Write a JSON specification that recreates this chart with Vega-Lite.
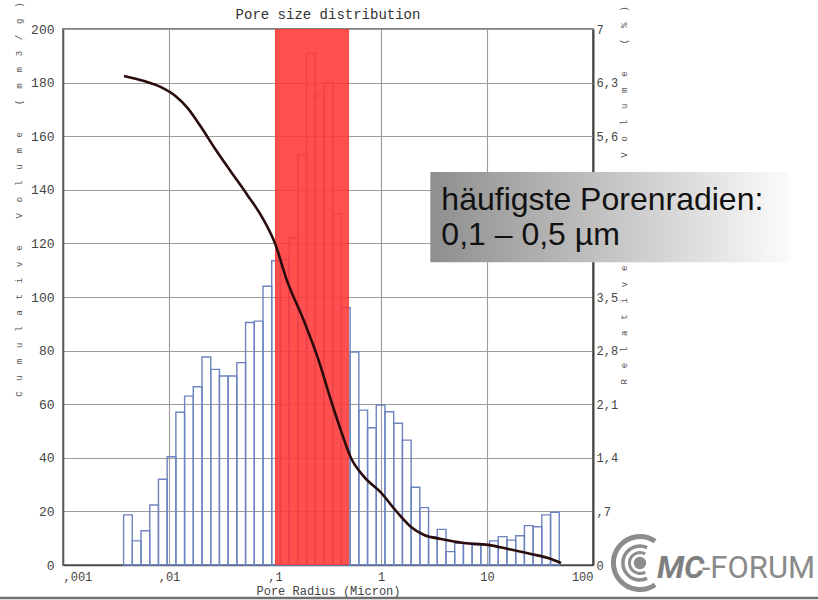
{
  "$schema": "https://vega.github.io/schema/vega-lite/v6.json",
  "width": 530,
  "height": 536,
  "autosize": {"type": "none"},
  "padding": {"left": 63, "top": 29, "right": 225, "bottom": 35},
  "background": "white",
  "title": {"text": "Pore size distribution", "font": "Liberation Mono", "fontSize": 14, "fontWeight": "normal", "color": "#333333", "offset": 9, "dy": 29, "anchor": "middle"},
  "config": {
    "view": {"stroke": "#5a5a5a", "strokeWidth": 1.5},
    "axis": {"gridColor": "#9c9c9c", "gridWidth": 1.1}
  },
  "resolve": {"axis": {"x": "independent", "y": "independent"}},
  "layer": [
    {
      "data": {"values": [
        {"x0": 0.003729, "x1": 0.004507, "v": 18.7},
        {"x0": 0.004507, "x1": 0.005445, "v": 9},
        {"x0": 0.005445, "x1": 0.00658, "v": 12.8},
        {"x0": 0.00658, "x1": 0.007951, "v": 22.4},
        {"x0": 0.007951, "x1": 0.009607, "v": 32},
        {"x0": 0.009607, "x1": 0.01161, "v": 40.4},
        {"x0": 0.01161, "x1": 0.01403, "v": 57},
        {"x0": 0.01403, "x1": 0.01695, "v": 63},
        {"x0": 0.01695, "x1": 0.02048, "v": 66.5},
        {"x0": 0.02048, "x1": 0.02475, "v": 77.6},
        {"x0": 0.02475, "x1": 0.0299, "v": 73},
        {"x0": 0.0299, "x1": 0.03614, "v": 70.5},
        {"x0": 0.03614, "x1": 0.04367, "v": 70.5},
        {"x0": 0.04367, "x1": 0.05277, "v": 75.5},
        {"x0": 0.05277, "x1": 0.06376, "v": 90.5},
        {"x0": 0.06376, "x1": 0.07704, "v": 91},
        {"x0": 0.07704, "x1": 0.09311, "v": 104},
        {"x0": 0.09311, "x1": 0.1125, "v": 113.5},
        {"x0": 0.1125, "x1": 0.1359, "v": 114},
        {"x0": 0.1359, "x1": 0.1643, "v": 122},
        {"x0": 0.1643, "x1": 0.1985, "v": 153},
        {"x0": 0.1985, "x1": 0.2399, "v": 191},
        {"x0": 0.2399, "x1": 0.2899, "v": 175},
        {"x0": 0.2899, "x1": 0.3503, "v": 180},
        {"x0": 0.3503, "x1": 0.4233, "v": 131},
        {"x0": 0.4233, "x1": 0.5114, "v": 96},
        {"x0": 0.5114, "x1": 0.618, "v": 79.5},
        {"x0": 0.618, "x1": 0.7468, "v": 57.8},
        {"x0": 0.7468, "x1": 0.9024, "v": 51.2},
        {"x0": 0.9024, "x1": 1.0904, "v": 59.7},
        {"x0": 1.0904, "x1": 1.3176, "v": 57.2},
        {"x0": 1.3176, "x1": 1.5922, "v": 52.9},
        {"x0": 1.5922, "x1": 1.9241, "v": 46.6},
        {"x0": 1.9241, "x1": 2.3248, "v": 29},
        {"x0": 2.3248, "x1": 2.8093, "v": 21.4},
        {"x0": 2.8093, "x1": 3.3943, "v": 10.6},
        {"x0": 3.3943, "x1": 4.102, "v": 13.3},
        {"x0": 4.102, "x1": 4.9569, "v": 5},
        {"x0": 4.9569, "x1": 5.9894, "v": 8.1},
        {"x0": 5.9894, "x1": 7.2378, "v": 8.1},
        {"x0": 7.2378, "x1": 8.7458, "v": 7.5},
        {"x0": 8.7458, "x1": 10.568, "v": 7.5},
        {"x0": 10.568, "x1": 12.771, "v": 9},
        {"x0": 12.771, "x1": 15.432, "v": 10.6},
        {"x0": 15.432, "x1": 18.648, "v": 9.3},
        {"x0": 18.648, "x1": 22.533, "v": 10.9},
        {"x0": 22.533, "x1": 27.227, "v": 14.7},
        {"x0": 27.227, "x1": 32.9, "v": 14.3},
        {"x0": 32.9, "x1": 39.757, "v": 18.7},
        {"x0": 39.757, "x1": 48.04, "v": 19.7}
      ]},
      "mark": {"type": "rect", "fill": "#ffffff", "fillOpacity": 0, "stroke": "#6d84c0", "strokeWidth": 1.4},
      "encoding": {
        "x": {"field": "x0", "type": "quantitative", "scale": {"type": "log", "domain": [0.001, 100], "nice": false},
          "axis": {"values": [0.001, 0.01, 0.1, 1, 10, 100], "labelExpr": "datum.value < 1 ? replace(toString(datum.value), '0.', ',') : toString(datum.value)", "grid": true, "ticks": false, "labelFont": "Liberation Mono", "labelFontSize": 12, "labelColor": "#444444", "labelPadding": 6, "labelFlush": true, "domainColor": "#4a4a4a", "domainWidth": 1.5, "title": "Pore Radius (Micron)", "titleFont": "Liberation Mono", "titleFontSize": 12, "titleFontWeight": "normal", "titleColor": "#444444", "titlePadding": 3}},
        "x2": {"field": "x1"},
        "y": {"field": "v", "type": "quantitative", "scale": {"domain": [0, 200], "nice": false},
          "axis": {"values": [0, 20, 40, 60, 80, 100, 120, 140, 160, 180, 200], "grid": true, "ticks": false, "labelFont": "Liberation Mono", "labelFontSize": 13, "labelColor": "#444444", "labelPadding": 9, "domainColor": "#5a5a5a", "domainWidth": 1.5,
            "title": "C\u00a0\u00a0u\u00a0\u00a0m\u00a0\u00a0u\u00a0\u00a0l\u00a0\u00a0a\u00a0\u00a0t\u00a0\u00a0i\u00a0\u00a0v\u00a0\u00a0e\u00a0\u00a0\u00a0\u00a0\u00a0V\u00a0\u00a0o\u00a0\u00a0l\u00a0\u00a0u\u00a0\u00a0m\u00a0\u00a0e\u00a0\u00a0\u00a0\u00a0\u00a0(\u00a0\u00a0m\u00a0\u00a0m\u00a0\u00a03\u00a0\u00a0/\u00a0\u00a0g\u00a0\u00a0)",
            "titleFont": "Liberation Mono", "titleFontSize": 9, "titleFontWeight": "normal", "titleColor": "#555555", "titleX": -45, "titleY": 170, "titleAngle": -90, "titleAlign": "center", "titleBaseline": "middle"}},
        "y2": {"datum": 0}
      }
    },
    {
      "data": {"values": [{"a": 0.1, "b": 0.5, "lo": 0, "hi": 200}]},
      "mark": {"type": "rect", "color": "#ff3838", "opacity": 0.88},
      "encoding": {
        "x": {"field": "a", "type": "quantitative", "scale": {"type": "log", "domain": [0.001, 100], "nice": false}, "axis": null},
        "x2": {"field": "b"},
        "y": {"field": "lo", "type": "quantitative", "scale": {"domain": [0, 200], "nice": false}, "axis": null},
        "y2": {"field": "hi"}
      }
    },
    {
      "data": {"values": [
        {"r": 0.00376, "c": 182.5},
        {"r": 0.0058, "c": 180.6},
        {"r": 0.0084, "c": 178.3},
        {"r": 0.0115, "c": 175},
        {"r": 0.015, "c": 170.5},
        {"r": 0.02, "c": 163.5},
        {"r": 0.027, "c": 155.5},
        {"r": 0.038, "c": 147},
        {"r": 0.055, "c": 138},
        {"r": 0.075, "c": 130},
        {"r": 0.1, "c": 120},
        {"r": 0.13, "c": 106},
        {"r": 0.186, "c": 91.4},
        {"r": 0.26, "c": 76},
        {"r": 0.34, "c": 61},
        {"r": 0.42, "c": 50},
        {"r": 0.52, "c": 40},
        {"r": 0.69, "c": 33},
        {"r": 1.0, "c": 27},
        {"r": 1.44, "c": 19.4},
        {"r": 1.92, "c": 14.2},
        {"r": 2.55, "c": 11.2},
        {"r": 3.68, "c": 9.7},
        {"r": 6.07, "c": 8.2},
        {"r": 10.2, "c": 7.5},
        {"r": 15.8, "c": 6},
        {"r": 26, "c": 4.1},
        {"r": 37.6, "c": 2.6},
        {"r": 49.9, "c": 0.75}
      ]},
      "mark": {"type": "line", "color": "#2a0c0c", "strokeWidth": 2.6, "interpolate": "monotone"},
      "encoding": {
        "x": {"field": "r", "type": "quantitative", "scale": {"type": "log", "domain": [0.001, 100], "nice": false}, "axis": null},
        "y": {"field": "c", "type": "quantitative", "scale": {"domain": [0, 200], "nice": false},
          "axis": {"orient": "right", "values": [0, 20, 40, 60, 80, 100, 120, 140, 160, 180, 200], "grid": false, "ticks": false,
            "labelExpr": "datum.value == 0 ? '0' : datum.value == 200 ? '7' : replace(replace(format(datum.value * 0.035, '.1f'), '0.', '.'), '.', ',')",
            "labelFont": "Liberation Mono", "labelFontSize": 12, "labelColor": "#444444", "labelPadding": 3, "domainColor": "#444444", "domainWidth": 2,
            "title": "R\u00a0\u00a0e\u00a0\u00a0l\u00a0\u00a0a\u00a0\u00a0t\u00a0\u00a0i\u00a0\u00a0v\u00a0\u00a0e\u00a0\u00a0\u00a0\u00a0\u00a0\u00a0\u00a0\u00a0\u00a0\u00a0\u00a0\u00a0\u00a0\u00a0\u00a0\u00a0\u00a0\u00a0\u00a0\u00a0V\u00a0\u00a0o\u00a0\u00a0l\u00a0\u00a0u\u00a0\u00a0m\u00a0\u00a0e\u00a0\u00a0\u00a0\u00a0\u00a0(\u00a0\u00a0%\u00a0\u00a0)",
            "titleFont": "Liberation Mono", "titleFontSize": 9, "titleFontWeight": "normal", "titleColor": "#555555", "titleX": 30, "titleY": 166, "titleAngle": -90, "titleAlign": "center", "titleBaseline": "middle"}}
      }
    },
    {
      "data": {"values": [{"x0": 2.92, "x1": 7160, "y0": 113, "y1": 146.6}]},
      "mark": {"type": "rect", "color": {"gradient": "linear", "x1": 0, "x2": 1, "y1": 0, "y2": 0, "stops": [{"offset": 0, "color": "#8e8e8e"}, {"offset": 1, "color": "#fbfbfb"}]}},
      "encoding": {
        "x": {"field": "x0", "type": "quantitative", "scale": {"type": "log", "domain": [0.001, 100], "nice": false}, "axis": null},
        "x2": {"field": "x1"},
        "y": {"field": "y0", "type": "quantitative", "scale": {"domain": [0, 200], "nice": false}, "axis": null},
        "y2": {"field": "y1"}
      }
    },
    {
      "data": {"values": [{"x": 3.71, "y": 132.5, "t": "häufigste Porenradien:\n0,1 – 0,5 µm"}]},
      "mark": {"type": "text", "align": "left", "baseline": "alphabetic", "font": "Liberation Sans", "fontSize": 32, "lineHeight": 35, "lineBreak": "\n", "color": "#111111"},
      "encoding": {
        "x": {"field": "x", "type": "quantitative", "scale": {"type": "log", "domain": [0.001, 100], "nice": false}, "axis": null},
        "y": {"field": "y", "type": "quantitative", "scale": {"domain": [0, 200], "nice": false}, "axis": null},
        "text": {"field": "t"}
      }
    },
    {
      "data": {"values": [{"x0": 0.0001, "x1": 100000, "y": -12.3}]},
      "mark": {"type": "rule", "color": "#6f6f6f", "strokeWidth": 2.5},
      "encoding": {
        "x": {"field": "x0", "type": "quantitative", "scale": {"type": "log", "domain": [0.001, 100], "nice": false}, "axis": null},
        "x2": {"field": "x1"},
        "y": {"field": "y", "type": "quantitative", "scale": {"domain": [0, 200], "nice": false}, "axis": null}
      }
    },
    {
      "data": {"values": [{"x": 277, "y": 0.75}]},
      "mark": {"type": "point", "shape": "M0.574,-0.819A1,1,0,1,0,0.574,0.819", "size": 2809, "filled": false, "stroke": "#8c8c8c", "strokeWidth": 5, "opacity": 1},
      "encoding": {
        "x": {"field": "x", "type": "quantitative", "scale": {"type": "log", "domain": [0.001, 100], "nice": false}, "axis": null},
        "y": {"field": "y", "type": "quantitative", "scale": {"domain": [0, 200], "nice": false}, "axis": null}
      }
    },
    {
      "data": {"values": [{"x": 277, "y": 0.75}]},
      "mark": {"type": "point", "shape": "M0.423,-0.906A1,1,0,1,0,0.423,0.906", "size": 1156, "filled": false, "stroke": "#8c8c8c", "strokeWidth": 3.5, "opacity": 1},
      "encoding": {
        "x": {"field": "x", "type": "quantitative", "scale": {"type": "log", "domain": [0.001, 100], "nice": false}, "axis": null},
        "y": {"field": "y", "type": "quantitative", "scale": {"domain": [0, 200], "nice": false}, "axis": null}
      }
    },
    {
      "data": {"values": [{"x": 277, "y": 0.75}]},
      "mark": {"type": "point", "shape": "M0.5,-0.866A1,1,0,1,0,0.5,0.866", "size": 441, "filled": false, "stroke": "#8c8c8c", "strokeWidth": 3, "opacity": 1},
      "encoding": {
        "x": {"field": "x", "type": "quantitative", "scale": {"type": "log", "domain": [0.001, 100], "nice": false}, "axis": null},
        "y": {"field": "y", "type": "quantitative", "scale": {"domain": [0, 200], "nice": false}, "axis": null}
      }
    },
    {
      "data": {"values": [{"x": 277, "y": 0.75}]},
      "mark": {"type": "point", "shape": "circle", "size": 154, "filled": true, "color": "#8c8c8c", "opacity": 1},
      "encoding": {
        "x": {"field": "x", "type": "quantitative", "scale": {"type": "log", "domain": [0.001, 100], "nice": false}, "axis": null},
        "y": {"field": "y", "type": "quantitative", "scale": {"domain": [0, 200], "nice": false}, "axis": null}
      }
    },
    {
      "data": {"values": [{"x": 401, "y": -4.85, "t": "MC"}]},
      "mark": {"type": "text", "align": "left", "baseline": "alphabetic", "font": "Roboto", "fontSize": 32, "fontWeight": "bold", "fontStyle": "italic", "color": "#7f7f7f"},
      "encoding": {
        "x": {"field": "x", "type": "quantitative", "scale": {"type": "log", "domain": [0.001, 100], "nice": false}, "axis": null},
        "y": {"field": "y", "type": "quantitative", "scale": {"domain": [0, 200], "nice": false}, "axis": null},
        "text": {"field": "t"}
      }
    },
    {
      "data": {"values": [{"x": 1062, "y": -4.85, "t": "-FORUM"}]},
      "mark": {"type": "text", "align": "left", "baseline": "alphabetic", "font": "Roboto", "fontSize": 31, "color": "#8a8a8a"},
      "encoding": {
        "x": {"field": "x", "type": "quantitative", "scale": {"type": "log", "domain": [0.001, 100], "nice": false}, "axis": null},
        "y": {"field": "y", "type": "quantitative", "scale": {"domain": [0, 200], "nice": false}, "axis": null},
        "text": {"field": "t"}
      }
    }
  ]
}
